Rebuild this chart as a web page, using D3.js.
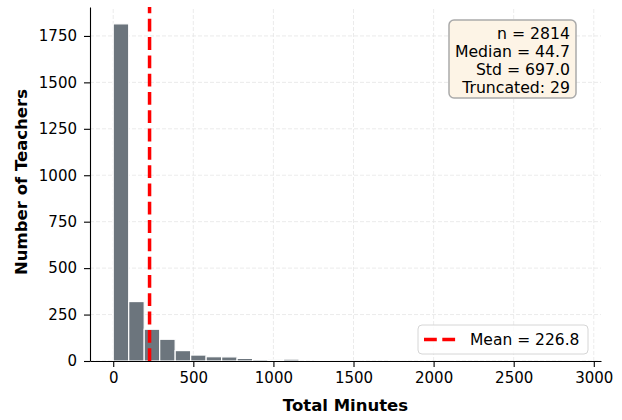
<!DOCTYPE html>
<meta charset="utf-8">
<style>
  body { margin: 0; background: #fff; }
  svg { font-family: "DejaVu Sans", sans-serif; }
  .grid line { stroke: #e6e6e6; stroke-dasharray: 4,2; stroke-width: 0.8; }
  .axis path, .axis line { stroke: #000; }
  .axis text { font-family: "DejaVu Sans", sans-serif; font-size: 15px; fill: #000; }
  .label { font-size: 16.5px; font-weight: bold; }
</style>
<body>
<script src="https://d3js.org/d3.v7.min.js"></script>
<script>

// histogram counts, 30 bins over 0..2900 minutes
var binStart = 0, binEnd = 2900;
var counts = [1815, 320, 171, 117, 56, 32, 23, 22, 14, 8, 6, 10, 0, 4, 1, 1, 0, 0, 1, 0, 0, 1, 0, 0, 0, 0, 0, 0, 0, 1];
var meanValue = 226.8;
var statsLines = ["n = 2814", "Median = 44.7", "Std = 697.0", "Truncated: 29"];
var xTicks = [0, 500, 1000, 1500, 2000, 2500, 3000];
var yTicks = [0, 250, 500, 750, 1000, 1250, 1500, 1750];

var width = 622, height = 420;
var margin = {top: 7, right: 21, bottom: 59, left: 90};

var binW = (binEnd - binStart) / counts.length;
var bins = counts.map(function(c, i) {
  return {x0: binStart + i * binW, x1: binStart + (i + 1) * binW, count: c};
});

var pad = (binEnd - binStart) * 0.05;
var x = d3.scaleLinear()
    .domain([binStart - pad, binEnd + pad])
    .range([margin.left, width - margin.right]);

var y = d3.scaleLinear()
    .domain([0, d3.max(counts) * 1.05])
    .range([height - margin.bottom, margin.top]);

var svg = d3.select("body").append("svg")
    .attr("width", width)
    .attr("height", height);

/*
** grid
*/
svg.append("g").attr("class", "grid")
  .selectAll("line").data(xTicks).enter().append("line")
    .attr("x1", function(d) { return x(d); })
    .attr("x2", function(d) { return x(d); })
    .attr("y1", y.range()[0])
    .attr("y2", y.range()[1]);

svg.append("g").attr("class", "grid")
  .selectAll("line").data(yTicks).enter().append("line")
    .attr("x1", x.range()[0])
    .attr("x2", x.range()[1])
    .attr("y1", function(d) { return y(d); })
    .attr("y2", function(d) { return y(d); });

/*
** bars
*/
svg.append("g")
  .selectAll("rect").data(bins).enter().append("rect")
    .attr("x", function(d) { return x(d.x0); })
    .attr("width", function(d) { return x(d.x1) - x(d.x0); })
    .attr("y", function(d) { return y(d.count); })
    .attr("height", function(d) { return y(0) - y(d.count); })
    .attr("fill", "#6c757d")
    .attr("stroke", "#fff")
    .attr("stroke-width", 1.2);

/*
** axes
*/
var xAxis = svg.append("g").attr("class", "axis")
    .attr("transform", "translate(0," + y(0) + ")")
    .call(d3.axisBottom(x).tickValues(xTicks).tickFormat(d3.format("d"))
      .tickSize(6).tickPadding(5).tickSizeOuter(0));
xAxis.select(".domain").attr("stroke-width", 1.1);
xAxis.selectAll("line").attr("stroke-width", 1.1);
xAxis.attr("font-size", null).attr("font-family", null);

var yAxis = svg.append("g").attr("class", "axis")
    .attr("transform", "translate(" + x.range()[0] + ",0)")
    .call(d3.axisLeft(y).tickValues(yTicks).tickFormat(d3.format("d"))
      .tickSize(6).tickPadding(7).tickSizeOuter(0));
yAxis.select(".domain").attr("stroke-width", 1.1);
yAxis.selectAll("line").attr("stroke-width", 1.1);
yAxis.attr("font-size", null).attr("font-family", null);

svg.append("text").attr("class", "label")
    .attr("x", (x.range()[0] + x.range()[1]) / 2)
    .attr("y", 411)
    .attr("text-anchor", "middle")
    .text("Total Minutes");

svg.append("text").attr("class", "label")
    .attr("transform", "translate(27,182) rotate(-90)")
    .attr("text-anchor", "middle")
    .text("Number of Teachers");

/*
** mean line
*/
svg.append("line")
    .attr("x1", x(meanValue)).attr("x2", x(meanValue))
    .attr("y1", y.range()[0]).attr("y2", y.range()[1])
    .attr("stroke", "red")
    .attr("stroke-width", 3.5)
    .attr("stroke-dasharray", "12.8,5.5");

/*
** stats box
*/
var box = svg.append("g");
box.append("rect")
    .attr("x", 449).attr("y", 20)
    .attr("width", 127).attr("height", 78)
    .attr("rx", 5)
    .attr("fill", "#fdf4e6")
    .attr("stroke", "#aaa")
    .attr("stroke-width", 1.5);
box.selectAll("text").data(statsLines).enter().append("text")
    .attr("x", 570)
    .attr("y", function(d, i) { return 38.5 + i * 18.3; })
    .attr("text-anchor", "end")
    .attr("font-size", 15.7)
    .text(function(d) { return d; });

/*
** legend
*/
var leg = svg.append("g");
leg.append("rect")
    .attr("x", 418).attr("y", 325)
    .attr("width", 170).attr("height", 29)
    .attr("rx", 4)
    .attr("fill", "#fff")
    .attr("fill-opacity", 0.8)
    .attr("stroke", "#d6d6d6")
    .attr("stroke-width", 1);
leg.append("line")
    .attr("x1", 424).attr("x2", 457)
    .attr("y1", 339.5).attr("y2", 339.5)
    .attr("stroke", "red")
    .attr("stroke-width", 3.5)
    .attr("stroke-dasharray", "12.8,5.5");
leg.append("text")
    .attr("x", 470).attr("y", 345)
    .attr("font-size", 15.5)
    .text("Mean = " + meanValue.toFixed(1));

</script>
</body>
